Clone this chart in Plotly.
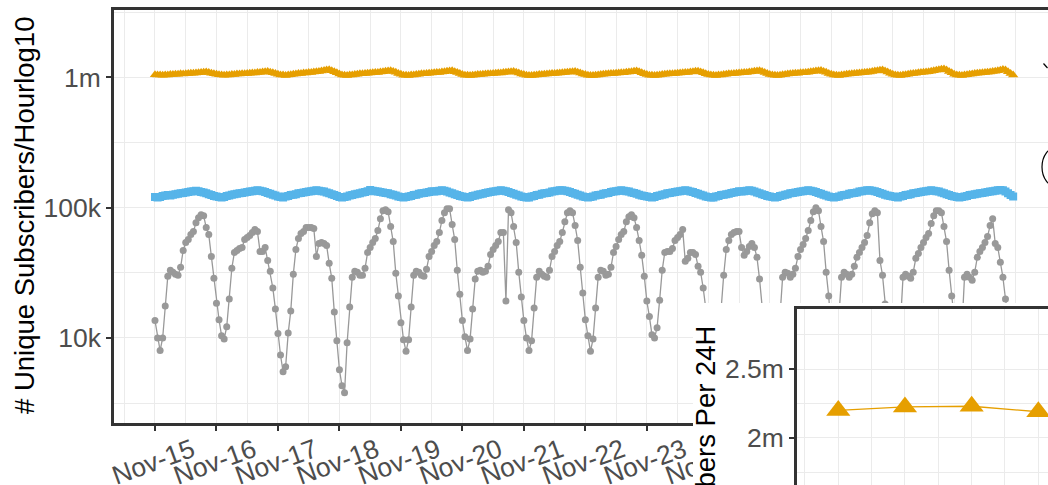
import pandas as pd
import plotly.graph_objects as go

# ---------------- data ----------------
days = ["Nov-15", "Nov-16", "Nov-17", "Nov-18", "Nov-19", "Nov-20", "Nov-21",
        "Nov-22", "Nov-23", "Nov-24", "Nov-25", "Nov-26", "Nov-27", "Nov-28", "Nov-29"]
day_dates = pd.date_range("2019-11-15", periods=len(days), freq="D")
hours = pd.date_range("2019-11-15 00:00", periods=14 * 24, freq="h")

# hourly unique subscribers, thousands (one row per day, 24 hours)
orange_k = [
    1050, 1044, 1043, 1040, 1045, 1046, 1052, 1054, 1059, 1060, 1066, 1065, 1070, 1071, 1077, 1076, 1084, 1086, 1094, 1096, 1102, 1090, 1080, 1066,
    1058, 1049, 1044, 1039, 1045, 1047, 1053, 1056, 1062, 1063, 1069, 1069, 1075, 1076, 1082, 1083, 1090, 1094, 1102, 1106, 1111, 1099, 1086, 1071,
    1058, 1047, 1043, 1037, 1044, 1049, 1058, 1063, 1071, 1075, 1082, 1084, 1091, 1094, 1101, 1105, 1114, 1120, 1132, 1139, 1146, 1128, 1109, 1085,
    1062, 1045, 1040, 1035, 1043, 1046, 1055, 1058, 1066, 1068, 1075, 1076, 1083, 1085, 1092, 1094, 1102, 1107, 1117, 1121, 1126, 1111, 1095, 1074,
    1058, 1042, 1039, 1035, 1043, 1047, 1055, 1059, 1066, 1068, 1074, 1076, 1083, 1085, 1092, 1094, 1102, 1107, 1117, 1121, 1126, 1109, 1093, 1072,
    1055, 1041, 1039, 1035, 1042, 1045, 1052, 1055, 1061, 1062, 1068, 1069, 1075, 1076, 1082, 1084, 1091, 1095, 1103, 1106, 1111, 1097, 1084, 1065,
    1053, 1041, 1037, 1035, 1041, 1046, 1052, 1055, 1060, 1064, 1067, 1071, 1074, 1078, 1081, 1086, 1090, 1097, 1102, 1108, 1110, 1096, 1082, 1064,
    1052, 1041, 1037, 1035, 1042, 1046, 1053, 1057, 1063, 1066, 1071, 1073, 1078, 1081, 1086, 1089, 1095, 1101, 1109, 1115, 1119, 1105, 1088, 1068,
    1054, 1042, 1038, 1036, 1041, 1047, 1052, 1058, 1062, 1067, 1070, 1074, 1077, 1082, 1085, 1090, 1094, 1102, 1108, 1116, 1118, 1104, 1087, 1069,
    1055, 1043, 1039, 1036, 1043, 1047, 1055, 1058, 1066, 1068, 1074, 1076, 1083, 1085, 1092, 1094, 1101, 1107, 1116, 1121, 1125, 1110, 1092, 1072,
    1056, 1043, 1038, 1036, 1042, 1049, 1055, 1062, 1067, 1072, 1076, 1080, 1085, 1089, 1094, 1099, 1105, 1112, 1120, 1127, 1130, 1114, 1095, 1074,
    1057, 1044, 1039, 1037, 1043, 1049, 1057, 1063, 1069, 1074, 1079, 1083, 1088, 1093, 1099, 1104, 1111, 1119, 1128, 1136, 1140, 1122, 1100, 1077,
    1058, 1045, 1040, 1037, 1044, 1051, 1060, 1067, 1074, 1080, 1086, 1091, 1097, 1103, 1109, 1116, 1124, 1134, 1144, 1155, 1160, 1140, 1114, 1086,
    1060, 1046, 1040, 1037, 1043, 1050, 1058, 1065, 1071, 1077, 1082, 1087, 1093, 1098, 1104, 1110, 1118, 1126, 1138, 1150, 1140, 1108, 1075, 1045,
]

blue_k = [
    121, 120, 121, 123, 124, 125, 124, 126, 127, 128, 129, 130, 131, 132, 133, 134, 135, 134, 132, 131, 129, 127, 125, 123,
    122, 121, 120, 121, 123, 124, 126, 127, 128, 129, 130, 131, 132, 133, 134, 135, 136, 135, 134, 132, 130, 128, 126, 124,
    122, 121, 120, 122, 123, 125, 126, 127, 129, 130, 131, 132, 133, 134, 135, 136, 135, 134, 133, 131, 129, 127, 125, 123,
    121, 120, 121, 122, 124, 125, 127, 128, 129, 131, 132, 134, 137, 135, 134, 133, 132, 131, 130, 129, 127, 126, 124, 122,
    121, 120, 121, 122, 123, 125, 126, 128, 129, 130, 131, 132, 134, 133, 134, 135, 136, 135, 133, 131, 129, 127, 125, 123,
    122, 121, 120, 121, 123, 124, 126, 127, 128, 130, 131, 132, 133, 134, 135, 136, 135, 134, 132, 130, 128, 126, 124, 122,
    121, 120, 120, 122, 123, 125, 126, 128, 129, 130, 131, 133, 134, 135, 136, 136, 135, 134, 132, 130, 128, 126, 124, 122,
    121, 120, 121, 122, 124, 125, 126, 128, 129, 130, 132, 133, 134, 135, 136, 135, 134, 133, 131, 130, 128, 126, 124, 123,
    122, 121, 120, 121, 123, 124, 126, 127, 129, 130, 131, 132, 133, 134, 135, 136, 135, 133, 132, 130, 128, 126, 124, 122,
    121, 120, 120, 122, 123, 125, 126, 127, 128, 130, 131, 132, 134, 133, 134, 135, 136, 135, 133, 131, 129, 127, 125, 123,
    122, 121, 120, 121, 123, 124, 126, 127, 129, 130, 131, 132, 133, 134, 135, 136, 135, 134, 132, 130, 128, 126, 124, 122,
    121, 120, 121, 122, 124, 125, 126, 128, 129, 130, 131, 133, 134, 135, 136, 136, 135, 134, 132, 130, 128, 126, 124, 123,
    122, 121, 120, 122, 123, 125, 126, 127, 129, 130, 131, 132, 133, 134, 135, 136, 135, 134, 133, 131, 129, 127, 125, 123,
    122, 121, 120, 121, 122, 123, 125, 126, 127, 128, 129, 130, 131, 132, 133, 134, 135, 136, 137, 136, 133, 129, 125, 122,
]

gray_k = [
    13.6, 10.0, 8.0, 10.0, 17.6, 29.8, 33.1, 32.0, 30.9, 30.3, 34.9, 47.0, 54.1, 57.0, 62.2, 65.6, 76.8, 83.9, 88.4, 86.9, 70.4, 62.2, 42.3, 28.8,
    18.5, 13.8, 10.4, 9.8, 12.2, 19.9, 34.3, 45.4, 47.0, 48.7, 49.5, 57.0, 59.0, 61.2, 64.5, 67.9, 65.6, 46.2, 46.2, 49.5, 39.4, 32.5, 24.2, 16.7,
    10.8, 7.4, 5.5, 6.0, 10.9, 16.1, 30.9, 47.8, 58.0, 63.3, 65.6, 70.4, 70.4, 70.4, 69.2, 42.3, 53.1, 54.1, 53.1, 51.3, 37.4, 28.8, 15.8, 9.5,
    5.7, 4.3, 3.8, 9.2, 17.3, 29.3, 32.5, 32.0, 30.3, 30.3, 34.3, 45.4, 49.5, 54.1, 58.0, 66.8, 82.4, 94.9, 96.5, 93.2, 71.6, 55.0, 31.4, 21.0,
    13.1, 9.7, 7.9, 9.7, 17.3, 30.3, 32.5, 32.0, 30.3, 29.8, 33.7, 42.3, 46.2, 51.3, 55.0, 64.5, 79.6, 91.6, 98.3, 98.3, 74.2, 57.0, 33.1, 21.7,
    13.6, 10.2, 8.0, 9.8, 16.7, 28.3, 32.5, 33.1, 32.0, 32.5, 35.5, 43.8, 47.8, 51.3, 55.0, 64.5, 64.5, 19.2, 96.5, 91.6, 71.6, 54.1, 32.0, 20.6,
    13.6, 10.0, 8.0, 9.5, 17.0, 29.3, 32.5, 30.9, 29.8, 29.3, 33.1, 42.3, 46.2, 51.3, 55.0, 64.5, 78.2, 91.6, 94.9, 91.6, 72.9, 56.0, 34.9, 22.1,
    13.8, 10.4, 7.9, 9.8, 17.0, 29.3, 33.1, 32.5, 30.3, 30.9, 34.9, 45.4, 50.4, 57.0, 62.2, 65.6, 78.2, 85.4, 88.4, 83.9, 70.4, 56.0, 43.1, 29.8,
    19.2, 14.6, 10.6, 10.0, 12.0, 19.5, 33.1, 45.4, 46.2, 46.2, 48.7, 56.0, 59.0, 62.2, 67.9, 38.8, 40.9, 45.4, 45.4, 43.8, 35.5, 32.0, 24.2, 16.7,
    10.8, 8.3, 7.2, 9.0, 14.1, 16.7, 30.3, 47.8, 56.0, 62.2, 64.5, 65.6, 65.6, 49.5, 43.1, 46.2, 50.4, 53.1, 49.5, 41.6, 28.3, 16.1, 10.8, 7.8,
    6.9, 5.0, 4.6, 7.6, 15.3, 29.3, 32.0, 31.4, 29.3, 30.9, 34.3, 42.3, 47.8, 52.2, 58.0, 66.8, 79.6, 93.2, 100.0, 94.9, 71.6, 55.0, 32.0, 21.0,
    10.8, 8.3, 7.6, 14.1, 29.3, 32.0, 30.9, 29.3, 30.9, 35.5, 41.6, 45.4, 49.5, 54.1, 61.2, 76.8, 90.0, 94.9, 91.6, 39.4, 30.3, 18.2, 11.8, 9.0,
    10.8, 7.6, 6.8, 12.9, 29.3, 30.9, 29.8, 28.8, 32.0, 40.9, 44.6, 49.5, 54.1, 59.0, 63.3, 75.5, 86.9, 94.9, 94.9, 91.6, 71.6, 55.0, 33.1, 21.0,
    12.9, 9.0, 7.2, 11.8, 29.3, 30.9, 29.3, 27.8, 32.0, 41.6, 46.2, 49.5, 54.1, 60.1, 72.9, 82.4, 53.1, 49.5, 38.1, 29.3, 19.9, 14.1, 10.8, 9.0,
]

# inset: unique subscribers per 24h (millions)
inset_x = [1, 2, 3, 4]
inset_m = [2.20, 2.225, 2.23, 2.19]

y_tickvals = [1e4, 1e5, 1e6]
y_ticktext = ["10k", "100k", "1m"]
y_minor = [10 ** 3.5, 10 ** 4.5, 10 ** 5.5, 10 ** 6.5]
inset_tickvals = [2.0e6, 2.5e6]
inset_ticktext = ["2m", "2.5m"]
inset_minor = [1.75e6, 2.25e6, 2.75e6]

# ---------------- styling ----------------
ORANGE = "#E69F00"
BLUE = "#56B4E9"
GREY = "#999999"
FRAME = "#333333"
GRID = "#EBEBEB"
TICKC = "#4D4D4D"
FONT = "Liberation Sans, Arial, sans-serif"
W, H = 1048, 485


def px_x(p):
    return p / W


def px_y(p):
    return 1 - p / H


fig = go.Figure()

fig.add_trace(go.Scatter(
    x=hours, y=[v * 1000 for v in gray_k], mode="lines+markers",
    line=dict(color=GREY, width=1.3), marker=dict(color=GREY, size=7, symbol="circle"),
    showlegend=False, hoverinfo="skip"))
fig.add_trace(go.Scatter(
    x=hours, y=[v * 1000 for v in blue_k], mode="lines+markers",
    line=dict(color=BLUE, width=2), marker=dict(color=BLUE, size=8, symbol="square"),
    showlegend=False, hoverinfo="skip"))
fig.add_trace(go.Scatter(
    x=hours, y=[v * 1000 for v in orange_k], mode="lines+markers",
    line=dict(color=ORANGE, width=2), marker=dict(color=ORANGE, size=9, symbol="triangle-up"),
    showlegend=False, hoverinfo="skip"))

# cover subplot (white background behind the inset)
fig.add_trace(go.Scatter(x=[0], y=[0], xaxis="x2", yaxis="y2", mode="markers",
                         marker=dict(opacity=0), showlegend=False, hoverinfo="skip"))

# inset
fig.add_trace(go.Scatter(
    x=inset_x, y=[v * 1e6 for v in inset_m], xaxis="x3", yaxis="y3", mode="lines+markers",
    line=dict(color=ORANGE, width=1.3), marker=dict(color=ORANGE, size=21, symbol="triangle-up"),
    showlegend=False, hoverinfo="skip", cliponaxis=False))

minor_x = [d - pd.Timedelta(hours=12) for d in day_dates[:-1]]

fig.update_layout(
    width=W, height=H, autosize=False,
    margin=dict(l=0, r=0, t=0, b=0, pad=0, autoexpand=False),
    paper_bgcolor="white", plot_bgcolor="white",
    font=dict(family=FONT, color=TICKC, size=26.5),
    showlegend=False,
    xaxis=dict(
        domain=[px_x(114), 1.0], anchor="y", type="date", automargin=False,
        range=["2019-11-14 08:00", "2019-11-29 12:36"],
        tickmode="array", tickvals=list(day_dates), ticktext=days,
        tickangle=-20, ticklabelshift=37, ticklabelstandoff=-6,
        tickfont=dict(size=26.5, color=TICKC, family=FONT),
        ticks="outside", ticklen=5, tickwidth=1.5, tickcolor=FRAME,
        showgrid=True, gridcolor=GRID, gridwidth=1.3,
        minor=dict(tickmode="array", tickvals=minor_x, showgrid=True, gridcolor=GRID, gridwidth=0.8, ticks=""),
        showline=True, linecolor=FRAME, linewidth=2.5, mirror=True, zeroline=False,
    ),
    yaxis=dict(
        domain=[px_y(423), px_y(9.5)], anchor="x", type="log", automargin=False,
        range=[3.347, 6.522],
        tickmode="array", tickvals=y_tickvals, ticktext=y_ticktext,
        tickfont=dict(size=26.5, color=TICKC, family=FONT),
        ticks="outside", ticklen=5, tickwidth=1.5, tickcolor=FRAME,
        showgrid=True, gridcolor=GRID, gridwidth=1.3,
        minor=dict(tickmode="array", tickvals=y_minor, showgrid=True, gridcolor=GRID, gridwidth=0.8, ticks=""),
        showline=True, linecolor=FRAME, linewidth=2.5, zeroline=False,
    ),
    xaxis2=dict(domain=[px_x(693), 1.0], anchor="y2", range=[-1, 1], showgrid=False, automargin=False,
                zeroline=False, showticklabels=False, ticks="", showline=False),
    yaxis2=dict(domain=[0.0, px_y(303)], anchor="x2", range=[-1, 1], showgrid=False, automargin=False,
                zeroline=False, showticklabels=False, ticks="", showline=False),
    xaxis3=dict(
        domain=[px_x(797), 1.0], anchor="y3", side="top", range=[0.381, 4.145], automargin=False,
        tickmode="array", tickvals=inset_x, showticklabels=False, ticks="",
        showgrid=True, gridcolor=GRID, gridwidth=1.3,
        minor=dict(tickmode="array", tickvals=[0.5, 1.5, 2.5, 3.5], showgrid=True, gridcolor=GRID, gridwidth=0.8, ticks=""),
        showline=True, linecolor=FRAME, linewidth=2.5, zeroline=False,
    ),
    yaxis3=dict(
        domain=[0.0, px_y(309)], anchor="x3", range=[1.659e6, 2.935e6], automargin=False,
        tickmode="array", tickvals=inset_tickvals, ticktext=inset_ticktext,
        tickfont=dict(size=26.5, color=TICKC, family=FONT),
        ticks="outside", ticklen=5, tickwidth=1.5, tickcolor=FRAME,
        showgrid=True, gridcolor=GRID, gridwidth=1.3,
        minor=dict(tickmode="array", tickvals=inset_minor, showgrid=True, gridcolor=GRID, gridwidth=0.8, ticks=""),
        showline=True, linecolor=FRAME, linewidth=2.5, zeroline=False,
    ),
)

fig.add_annotation(
    text="# Unique Subscribers/Hourlog10", xref="paper", yref="paper",
    x=px_x(24), y=px_y(216), xanchor="center", yanchor="middle", textangle=-90,
    showarrow=False, font=dict(size=27.5, color="black", family=FONT))
fig.add_annotation(
    text="# Unique Subscribers Per 24H", xref="paper", yref="paper",
    x=px_x(705), y=px_y(512), xanchor="center", yanchor="middle", textangle=-90,
    showarrow=False, font=dict(size=27.5, color="black", family=FONT))

# partial elements at the right edge
fig.add_shape(type="circle", xref="paper", yref="paper",
              x0=px_x(1042), x1=px_x(1072), y0=px_y(187), y1=px_y(147),
              line=dict(color="black", width=1.2), layer="above")
fig.add_shape(type="line", xref="paper", yref="paper",
              x0=px_x(1043.5), x1=px_x(1047.5), y0=px_y(63.5), y1=px_y(68),
              line=dict(color="black", width=1.2), layer="above")

fig.write_html(
    "out.html",
    config={"displayModeBar": False},
    post_script="document.body.style.margin='0';document.body.style.overflow='hidden';",
)
